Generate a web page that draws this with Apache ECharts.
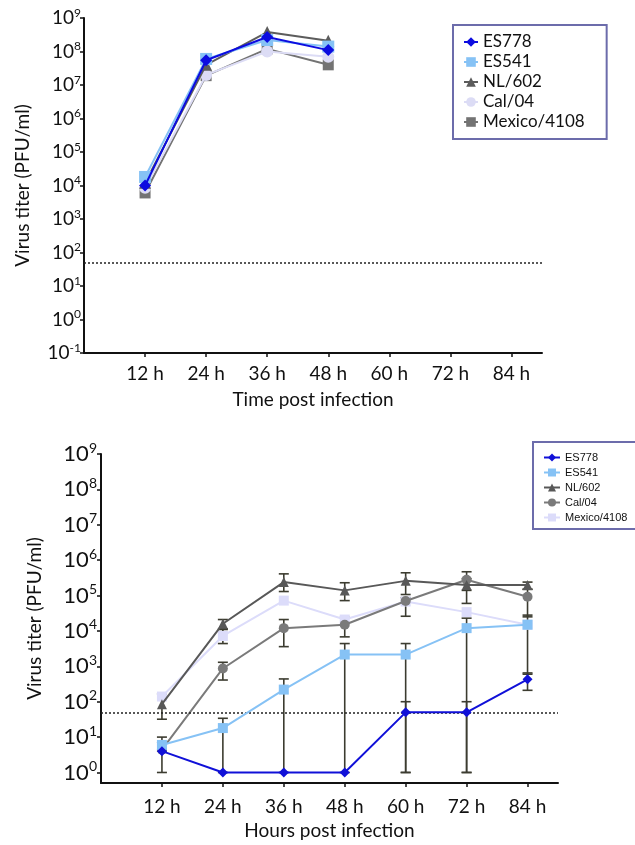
<!DOCTYPE html>
<html>
<head>
<meta charset="utf-8">
<script src="https://cdn.jsdelivr.net/npm/echarts@6/dist/echarts.min.js"></script>
<style>
  html, body { margin: 0; padding: 0; background: #fff; }
  #top { position: absolute; left: 0; top: 0; width: 635px; height: 420px; }
  #bottom { position: absolute; left: 0; top: 420px; width: 635px; height: 425px; }
</style>
</head>
<body>
<div id="top"></div>
<div id="bottom"></div>
<script>
// hours post infection
const hours = [12, 24, 36, 48, 60, 72, 84]
const limitOfDetection = 50

// top panel, titers (PFU/ml), 12-48 h
const topES778 = [1.0e4, 5.5e7, 2.7e8, 1.1e8]
const topES541 = [1.8e4, 6.0e7, 2.2e8, 1.4e8]
const topNL602 = [1.2e4, 4.0e7, 3.8e8, 2.1e8]
const topCal04 = [8.5e3, 2.0e7, 1.0e8, 7.0e7]
const topMexico = [6.0e3, 1.9e7, 1.2e8, 4.0e7]

// bottom panel, titers (PFU/ml) with error bar low / high
const botES778 = [4, 1, 1, 1, 50, 50, 430]
const botES778Lo = [null, null, null, null, 1, 1, 210]
const botES778Hi = [null, null, null, null, 100, 100, 650]
const botES541 = [6, 18, 220, 2150, 2150, 12000, 15000]
const botES541Lo = [4, 1, 1, 1, 1, 1, 600]
const botES541Hi = [7, 34, 440, 4400, 4400, 23000, 28000]
const botNL602 = [85, 16000, 240000, 140000, 260000, 200000, 200000]
const botNL602Lo = [32, 11500, 130000, 72000, 107000, 60000, 150000]
const botNL602Hi = [166, 21000, 410000, 230000, 440000, 300000, 240000]
const botCal04 = [4.4, 870, 12000, 15000, 70000, 280000, 93000]
const botCal04Lo = [1, 410, 3600, 6800, 26000, 140000, 25000]
const botCal04Hi = [10, 1300, 21000, 24000, 87000, 470000, 150000]
const botMexico = [140, 7200, 72000, 21000, 68000, 34000, 15000]
const botMexicoLo = [null, 4400, null, null, null, null, null]
const botMexicoHi = [null, 11000, null, null, null, null, null]

const exponents = [0, 1, 2, 3, 4, 5, 6, 7, 8, 9]

const lg = v => Math.log10(v)
const pts = arr => arr.map((v, i) => [hours[i], lg(v)])

function powLabel(v) {
  return '{b|10}{s|' + Math.round(v) + '}'
}

function xAxisOpt(font, name, nameGap, margin) {
  return {
    type: 'value',
    min: 0,
    max: 90,
    name: name,
    nameLocation: 'middle',
    nameGap: nameGap,
    nameTextStyle: { fontFamily: font, fontSize: 19, color: '#111' },
    splitLine: { show: false },
    axisLine: { onZero: false, lineStyle: { color: '#111', width: 2 } },
    axisTick: { customValues: hours, length: 4, lineStyle: { color: '#111', width: 1.5 } },
    axisLabel: {
      customValues: hours,
      formatter: v => v + ' h',
      fontFamily: font,
      fontSize: 19,
      color: '#111',
      margin: margin
    }
  }
}

function errorSeries(name, values, lo, hi) {
  const data = []
  values.forEach((v, i) => {
    if (lo[i] != null && hi[i] != null) data.push([hours[i], lg(lo[i]), lg(hi[i])])
  })
  return {
    type: 'custom',
    name: name + ' err',
    z: 1,
    silent: true,
    data: data,
    renderItem(params, api) {
      const top = api.coord([api.value(0), api.value(2)])
      const bot = api.coord([api.value(0), api.value(1)])
      const w = 5
      const st = { stroke: '#3c3c30', lineWidth: 1.6 }
      return {
        type: 'group',
        children: [
          { type: 'line', shape: { x1: top[0], y1: top[1], x2: bot[0], y2: bot[1] }, style: st },
          { type: 'line', shape: { x1: top[0] - w, y1: top[1], x2: top[0] + w, y2: top[1] }, style: st },
          { type: 'line', shape: { x1: bot[0] - w, y1: bot[1], x2: bot[0] + w, y2: bot[1] }, style: st }
        ]
      }
    }
  }
}

function lineSeries(name, arr, color, symbol, size, z) {
  return {
    type: 'line',
    name: name,
    data: pts(arr),
    symbol: symbol,
    symbolSize: size,
    z: z,
    lineStyle: { color: color, width: 2 },
    itemStyle: { color: color },
    emphasis: { disabled: true }
  }
}

const detectionLine = {
  silent: true,
  symbol: ['none', 'none'],
  label: { show: false },
  lineStyle: { color: '#222', type: [2, 2], width: 1.5 },
  data: [{ yAxis: lg(limitOfDetection) }]
}

// ---------- top panel ----------
const topChart = echarts.init(document.getElementById('top'))
const topFont = 'Lato'
const topSeries = [
  lineSeries('Mexico/4108', topMexico, '#737373', 'rect', 11, 2),
  lineSeries('Cal/04', topCal04, '#dcdcf5', 'circle', 12, 3),
  lineSeries('NL/602', topNL602, '#5c5c5c', 'triangle', 12, 4),
  lineSeries('ES541', topES541, '#86c2f5', 'rect', 12, 5),
  lineSeries('ES778', topES778, '#0c0ce0', 'diamond', 12, 6)
]
topSeries[0].markLine = detectionLine

topChart.setOption({
  animation: false,
  grid: { left: 84, top: 18, width: 458, height: 335 },
  legend: {
    data: ['ES778', 'ES541', 'NL/602', 'Cal/04', 'Mexico/4108'],
    orient: 'vertical',
    left: 453,
    top: 25,
    padding: [8, 22, 8, 10],
    itemWidth: 14,
    itemHeight: 12,
    itemGap: 2,
    borderColor: '#6c6cab',
    borderWidth: 2,
    selectedMode: false,
    textStyle: { fontFamily: topFont, fontSize: 17, lineHeight: 18, color: '#111' }
  },
  xAxis: xAxisOpt(topFont, 'Time post infection', 37, 11),
  yAxis: {
    type: 'value',
    min: -1,
    max: 9,
    interval: 1,
    name: 'Virus titer (PFU/ml)',
    nameLocation: 'middle',
    nameGap: 52,
    nameTextStyle: { fontFamily: topFont, fontSize: 19, color: '#111' },
    splitLine: { show: false },
    axisLine: { show: true, lineStyle: { color: '#111', width: 2 } },
    axisTick: { show: true, length: 4, lineStyle: { color: '#111', width: 1.5 } },
    axisLabel: {
      formatter: powLabel,
      margin: 3,
      rich: {
        b: { fontFamily: topFont, fontSize: 19, color: '#111', lineHeight: 22 },
        s: { fontFamily: topFont, fontSize: 12, color: '#111', lineHeight: 13, verticalAlign: 'top' }
      }
    }
  },
  series: topSeries
})

// ---------- bottom panel ----------
const botChart = echarts.init(document.getElementById('bottom'))
const botFont = 'Lato'
const legendFont = 'Liberation Sans'

const botSeries = [
  errorSeries('Mexico/4108', botMexico, botMexicoLo, botMexicoHi),
  errorSeries('Cal/04', botCal04, botCal04Lo, botCal04Hi),
  errorSeries('NL/602', botNL602, botNL602Lo, botNL602Hi),
  errorSeries('ES541', botES541, botES541Lo, botES541Hi),
  errorSeries('ES778', botES778, botES778Lo, botES778Hi),
  lineSeries('Mexico/4108', botMexico, '#dcdcfa', 'rect', 10, 2),
  lineSeries('Cal/04', botCal04, '#7a7a7a', 'circle', 10, 3),
  lineSeries('NL/602', botNL602, '#585858', 'triangle', 10, 4),
  lineSeries('ES541', botES541, '#86c2f5', 'rect', 10, 5),
  lineSeries('ES778', botES778, '#1010d8', 'diamond', 10, 6)
]
botSeries[5].markLine = detectionLine

botChart.setOption({
  animation: false,
  grid: { left: 101, top: 34, width: 457, height: 335 },
  legend: {
    data: ['ES778', 'ES541', 'NL/602', 'Cal/04', 'Mexico/4108'],
    orient: 'vertical',
    left: 533,
    top: 22,
    padding: [10, 12, 6, 10],
    itemWidth: 16,
    itemHeight: 10,
    itemGap: 4,
    borderColor: '#6c6cab',
    borderWidth: 2,
    selectedMode: false,
    textStyle: { fontFamily: legendFont, fontSize: 11, color: '#111' }
  },
  xAxis: xAxisOpt(botFont, 'Hours post infection', 31, 14),
  yAxis: {
    type: 'value',
    min: -0.3,
    max: 9,
    name: 'Virus titer (PFU/ml)',
    nameLocation: 'middle',
    nameGap: 57,
    nameTextStyle: { fontFamily: botFont, fontSize: 19, color: '#111' },
    splitLine: { show: false },
    axisLine: { show: true, lineStyle: { color: '#111', width: 2 } },
    axisTick: { show: true, customValues: exponents, length: 4, lineStyle: { color: '#111', width: 1.5 } },
    axisLabel: {
      customValues: exponents,
      formatter: powLabel,
      margin: 4,
      rich: {
        b: { fontFamily: botFont, fontSize: 22, color: '#111', lineHeight: 26 },
        s: { fontFamily: botFont, fontSize: 14, color: '#111', lineHeight: 15, verticalAlign: 'top' }
      }
    }
  },
  series: botSeries
})
</script>
</body>
</html>
